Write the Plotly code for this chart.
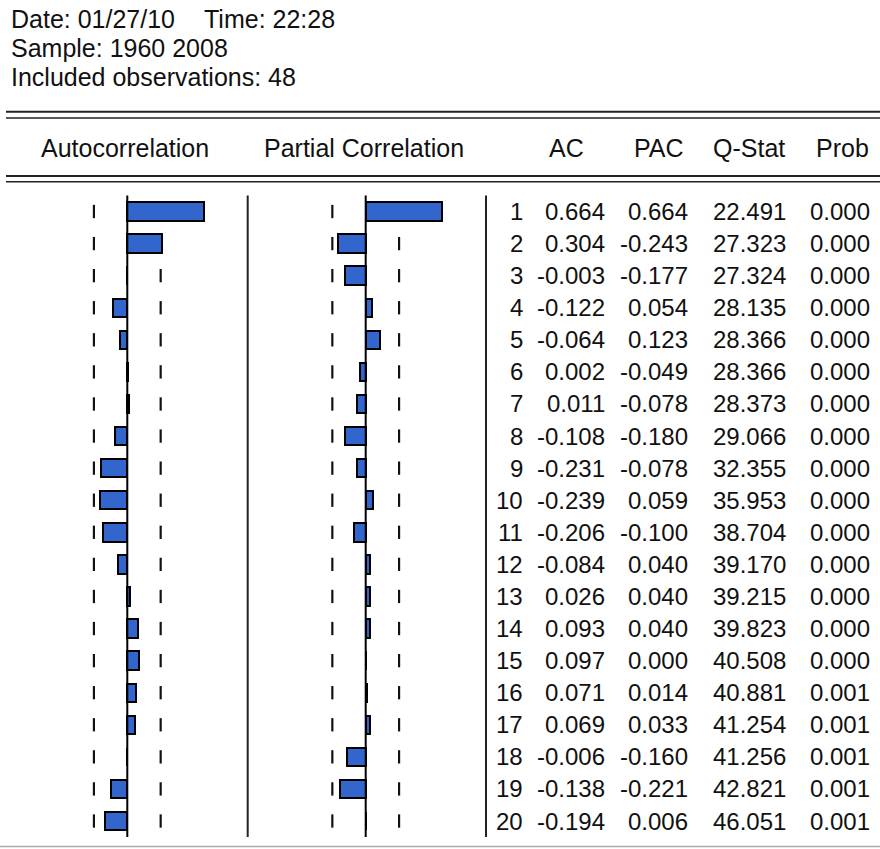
import plotly.graph_objects as go

# ---------------- data ----------------
lags = list(range(1, 21))
ac = [0.664, 0.304, -0.003, -0.122, -0.064, 0.002, 0.011, -0.108, -0.231, -0.239,
      -0.206, -0.084, 0.026, 0.093, 0.097, 0.071, 0.069, -0.006, -0.138, -0.194]
pac = [0.664, -0.243, -0.177, 0.054, 0.123, -0.049, -0.078, -0.180, -0.078, 0.059,
       -0.100, 0.040, 0.040, 0.040, 0.000, 0.014, 0.033, -0.160, -0.221, 0.006]
qstat = [22.491, 27.323, 27.324, 28.135, 28.366, 28.366, 28.373, 29.066, 32.355, 35.953,
         38.704, 39.170, 39.215, 39.823, 40.508, 40.881, 41.254, 41.256, 42.821, 46.051]
prob = [0.000] * 15 + [0.001] * 5
n_obs = 48
bound = 2 / n_obs ** 0.5  # approx. 2 standard-error band

header_lines = ["Date: 01/27/10", "Sample: 1960 2008", "Included observations: 48"]
time_text = "Time: 22:28"
col_titles = ["Autocorrelation", "Partial Correlation", "AC", "PAC", "Q-Stat", "Prob"]

# ---------------- geometry ----------------
W, H = 880, 849
FONT = "Liberation Sans, Arial, sans-serif"
BAR_COLOR = "#3366CC"
pitch = 32.08
row1 = 211.5
pxu = 115.6  # pixels per correlation unit
zero_ac = 127.3
zero_pac = 365.7

def py(p):  # pixel y -> paper y
    return 1 - p / H

def px(p):
    return p / W

y_range = [1 + (H - row1) / pitch, 1 - row1 / pitch]
ac_range = [-zero_ac / pxu, (W - zero_ac) / pxu]
pac_range = [-zero_pac / pxu, (W - zero_pac) / pxu]

fig = go.Figure()

dash_style = dict(symbol="line-ns", size=9.5, line=dict(width=2.2, color="#111"))
# dashed bounds on lower overlay axes (x: AC, x2: PAC) so bars cover them
for xa in ["x", "x2"]:
    for s in (-1, 1):
        fig.add_trace(go.Scatter(x=[s * bound] * len(lags), y=lags, mode="markers",
                                 marker=dash_style, xaxis=xa, yaxis="y",
                                 hoverinfo="skip", showlegend=False))

bar_w = 18.4 / pitch
fig.add_trace(go.Bar(x=ac, y=lags, orientation="h", width=bar_w, base=0,
                     marker=dict(color=BAR_COLOR, line=dict(color="#000", width=2)),
                     xaxis="x3", yaxis="y", hoverinfo="skip", showlegend=False))
fig.add_trace(go.Bar(x=pac, y=lags, orientation="h", width=bar_w, base=0,
                     marker=dict(color=BAR_COLOR, line=dict(color="#000", width=2)),
                     xaxis="x4", yaxis="y", hoverinfo="skip", showlegend=False))

shapes = []
# zero lines
for xr in ["x3", "x4"]:
    shapes.append(dict(type="line", xref=xr, yref="y", x0=0, x1=0, y0=0.5, y1=20.5,
                       line=dict(color="#000", width=2)))
# separators
for sx in (247.7, 486.0):
    shapes.append(dict(type="line", xref="paper", yref="y", x0=px(sx), x1=px(sx),
                       y0=0.5, y1=20.5, line=dict(color="#222", width=2)))
# horizontal rules
for yy, wd in ((111.7, 2), (118.0, 1.6), (176.0, 2), (181.7, 1.6)):
    shapes.append(dict(type="line", xref="paper", yref="paper", x0=px(6), x1=1,
                       y0=py(yy), y1=py(yy), line=dict(color="#222", width=wd)))
shapes.append(dict(type="line", xref="paper", yref="paper", x0=0, x1=1,
                   y0=py(846.5), y1=py(846.5), line=dict(color="#aaa", width=1.5)))

ann = []
def text(x, y, s, size=24, anchor="left", yref="paper"):
    ann.append(dict(x=x, y=y, xref="paper", yref=yref, text=s, showarrow=False,
                    xanchor=anchor, yanchor="middle",
                    font=dict(family=FONT, size=size, color="#111")))

# header block
for i, s in enumerate(header_lines):
    text(px(9), py(19 + 29 * i), s, size=25)
text(px(202), py(19), time_text, size=25)

# column titles
for s, lx in zip(col_titles, [40, 263, 548, 633, 712, 815]):
    text(px(lx - 1), py(147.5), s, size=25)

# table rows
for i, k in enumerate(lags):
    text(px(525), k, f"{k}", anchor="right", yref="y")
    text(px(607), k, f"{ac[i]:.3f}", anchor="right", yref="y")
    text(px(690), k, f"{pac[i]:.3f}", anchor="right", yref="y")
    text(px(788), k, f"{qstat[i]:.3f}", anchor="right", yref="y")
    text(px(872), k, f"{prob[i]:.3f}", anchor="right", yref="y")

ax_common = dict(visible=False, showgrid=False, zeroline=False, fixedrange=True)
fig.update_layout(
    width=W, height=H, autosize=False,
    margin=dict(l=0, r=0, t=0, b=0, pad=0),
    paper_bgcolor="white", plot_bgcolor="white",
    showlegend=False, hovermode=False, bargap=0,
    xaxis=dict(range=ac_range, domain=[0, 1], **ax_common),
    xaxis2=dict(range=pac_range, overlaying="x", domain=[0, 1], **ax_common),
    xaxis3=dict(range=ac_range, overlaying="x", domain=[0, 1], **ax_common),
    xaxis4=dict(range=pac_range, overlaying="x", domain=[0, 1], **ax_common),
    yaxis=dict(range=y_range, domain=[0, 1], **ax_common),
    shapes=shapes, annotations=ann,
)

fig.write_html("out.html", config={"displayModeBar": False},
               post_script="document.body.style.margin='0';document.body.style.padding='0';")
